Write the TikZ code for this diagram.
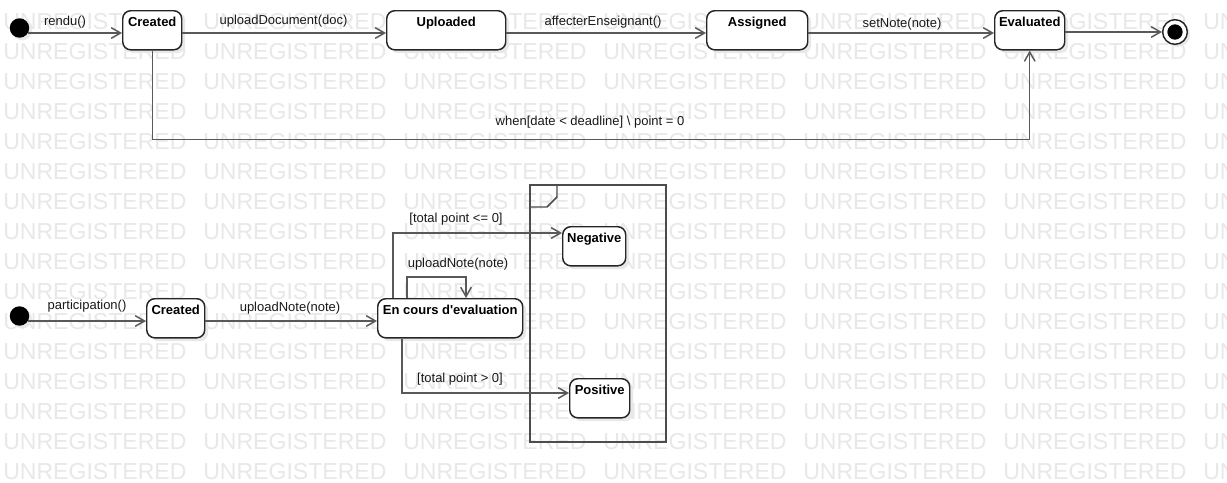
\documentclass[tikz,border=0pt]{standalone}
\usepackage{fontspec}
\setmainfont{Liberation Sans}
\usetikzlibrary{arrows.meta,shadows}
\begin{document}
\begin{tikzpicture}[x=0.75pt,y=-0.75pt,
  tr/.style={draw=black!65, line width=1.1pt, -{Straight Barb[length=7pt,width=8pt]}},
  ln/.style={draw=black!65, line width=1.1pt},
  st/.style={draw=black!85, line width=1.1pt, rounded corners=6pt, fill=white,
    drop shadow={shadow xshift=2.5pt, shadow yshift=-2.5pt, fill=black!9, opacity=1},
    font=\bfseries\fontsize{9.75}{11}\selectfont, inner sep=0pt,
    text height=12pt, text depth=17.3pt, anchor=north west, minimum width=0.75pt*#1},
  lbl/.style={font=\fontsize{9.75}{11}\selectfont, inner sep=0pt, text=black!90},
  wm/.style={font=\fontsize{17.3}{18}\selectfont, text=black!9, inner sep=0pt, anchor=base west},
  ini/.style={circle, fill=black, minimum size=14.6pt, inner sep=0pt,
    drop shadow={shadow xshift=2pt, shadow yshift=-2pt, fill=black!9, opacity=1}},
  frame/.style={draw=black!70, line width=1.1pt}
]
\useasboundingbox[fill=white] (0,0) rectangle (1227,482);
% watermark
\foreach \r in {0,...,15}{
  \foreach \c in {0,...,6}{
    \node[wm] (wm-\r-\c) at (3+200*\c, 29+30*\r) {UNREGISTERED};
  }
}
\coordinate (arow) at (0,33);
% ---------- top diagram ----------
\node[ini] (i1) at (19.5,28) {};
\node[st=59] (c1) at (122,10) {Created};
\node[st=119] (up) at (386,10) {Uploaded};
\node[st=101] (as) at (706,10) {Assigned};
\node[st=70] (ev) at (994,10) {Evaluated};
\node[circle, draw=black!85, line width=1.1pt, fill=white, minimum size=18.5pt, inner sep=0pt,
  drop shadow={shadow xshift=2pt, shadow yshift=-2pt, fill=black!9, opacity=1}] (fin) at (1175,32) {};
\node[circle, fill=black, minimum size=11.5pt, inner sep=0pt] (finin) at (fin.center) {};

\draw[tr] (i1.-30) -- (i1.-30 -| c1.west);
\draw[tr] (c1.east |- arow) -- (up.west |- arow);
\draw[tr] (up.east |- arow) -- (as.west |- arow);
\draw[tr] (as.east |- arow) -- (ev.west |- arow);
\draw[tr] (ev.east |- fin.west) -- (fin.west);
\draw[tr] (c1.south) -- ++(0,89) -| (ev.south);

\node[lbl] (l1) at (65,22) {rendu()};
\node[lbl] (l2) at (283.5,21.5) {uploadDocument(doc)};
\node[lbl] (l3) at (603,22) {affecterEnseignant()};
\node[lbl] (l4) at (902,24) {setNote(note)};
\node[lbl] (l5) at (590,122) {when[date < deadline] \textbackslash{} point = 0};

% ---------- bottom diagram ----------
\draw[frame] (530,185) rectangle (666,442);
\draw[frame] (530,207) -- (547,207) -- (557,197) -- (557,185);

\node[ini] (i2) at (19.5,316) {};
\node[st=58] (c2) at (146,298) {Created};
\node[st=145] (ec) at (377,298) {En cours d\textquotesingle evaluation};
\node[st=63] (neg) at (562,226) {Negative};
\node[st=60] (pos) at (569,378) {Positive};

\draw[tr] (i2.-30) -- (i2.-30 -| c2.west);
\draw[tr] (c2.east |- 0,321) -- (ec.west |- 0,321);
\draw[tr] (ec.north -| 393,0) |- (neg.west |- 0,233);
\draw[tr] (ec.north -| 407,0) |- (466,277) -- (ec.north -| 466,0);
\draw[tr] (ec.south -| 402,0) |- (pos.west |- 0,393);

\node[lbl] (l6) at (87,306) {participation()};
\node[lbl] (l7) at (290,308) {uploadNote(note)};
\node[lbl] (l8) at (456,219) {[total point <= 0]};
\node[lbl] (l9) at (458,264) {uploadNote(note)};
\node[lbl] (l10) at (460,379) {[total point > 0]};
\end{tikzpicture}
\end{document}
